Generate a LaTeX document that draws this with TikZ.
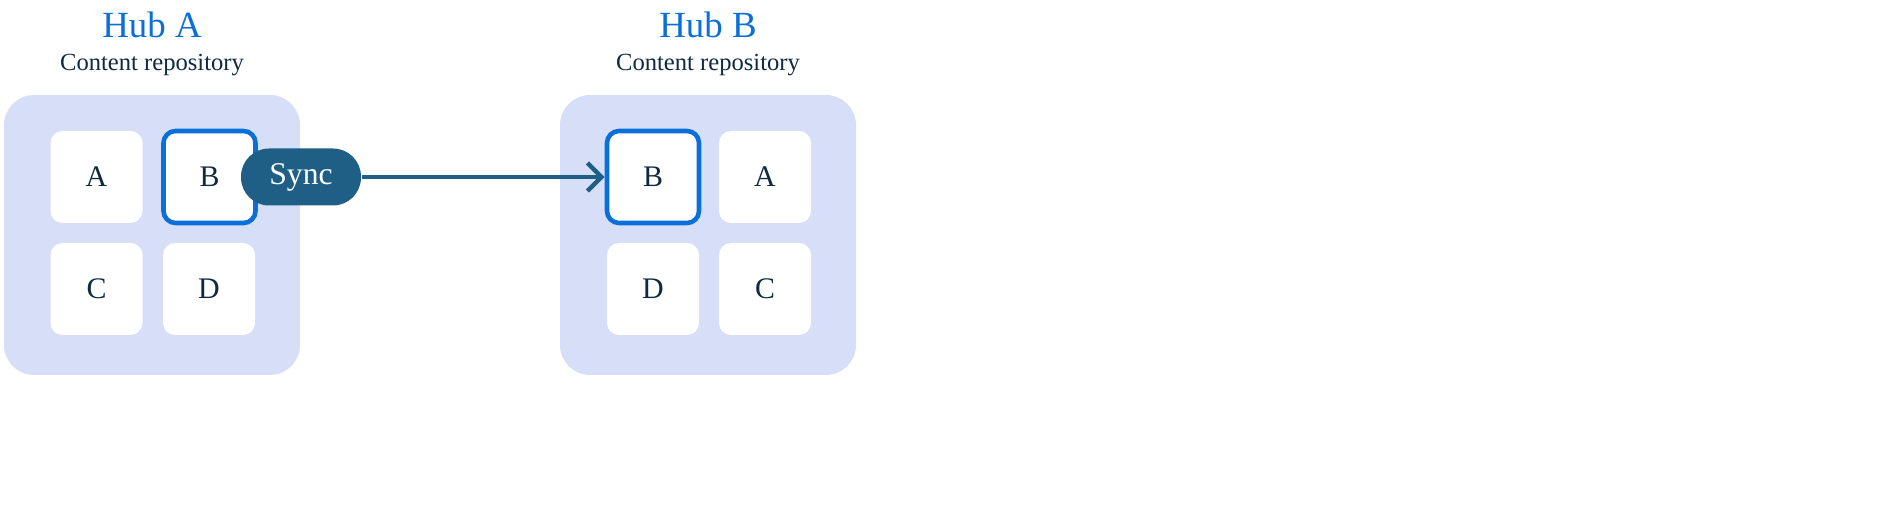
\documentclass[tikz,border=0pt]{standalone}
\usepackage{fontspec}
\setmainfont{Liberation Serif}
\usetikzlibrary{arrows.meta}
\definecolor{hubblue}{HTML}{0A6FD8}
\definecolor{panelbg}{HTML}{D6DFF7}
\definecolor{navy}{HTML}{0F2A40}
\definecolor{syncbg}{HTML}{1F5F86}
\tikzset{
  panel/.style={fill=panelbg,rounded corners=0.3cm},
  tile/.style={fill=white,rounded corners=0.12cm,minimum width=0.92cm,minimum height=0.92cm,
    text=navy,font=\fontsize{8.5pt}{10pt}\selectfont},
  sel/.style={tile,draw=hubblue,line width=1.3pt},
  title/.style={text=hubblue,font=\fontsize{10.5pt}{12pt}\selectfont},
  sub/.style={text=navy,font=\fontsize{7pt}{9pt}\selectfont}
}
\begin{document}
\begin{tikzpicture}
\useasboundingbox (0,0) rectangle (18.8,5.11);
% hub A
\fill[panel] (0.04,1.36) rectangle (3.00,4.16);
\node[title] (titleA) at (1.52,4.86) {Hub A};
\node[sub] (subA) at (1.52,4.46) {Content repository};
\node[tile] (aA) at (0.965,3.34) {A};
\node[sel] (aB) at (2.095,3.34) {B};
\node[tile] (aC) at (0.965,2.22) {C};
\node[tile] (aD) at (2.09,2.22) {D};
% hub B
\fill[panel] (5.60,1.36) rectangle (8.56,4.16);
\node[title] (titleB) at (7.08,4.86) {Hub B};
\node[sub] (subB) at (7.08,4.46) {Content repository};
\node[sel] (bB) at (6.53,3.34) {B};
\node[tile] (bA) at (7.65,3.34) {A};
\node[tile] (bD) at (6.53,2.22) {D};
\node[tile] (bC) at (7.65,2.22) {C};
% sync
\node[fill=syncbg,text=white,rounded corners=0.28cm,minimum width=1.2cm,minimum height=0.57cm,
  font=\fontsize{9pt}{10pt}\selectfont] (sync) at (3.01,3.34) {Sync};
\draw[syncbg,line width=1.3pt,-{Straight Barb[length=4pt]}] (sync.east) -- (bB.west);
\end{tikzpicture}
\end{document}
